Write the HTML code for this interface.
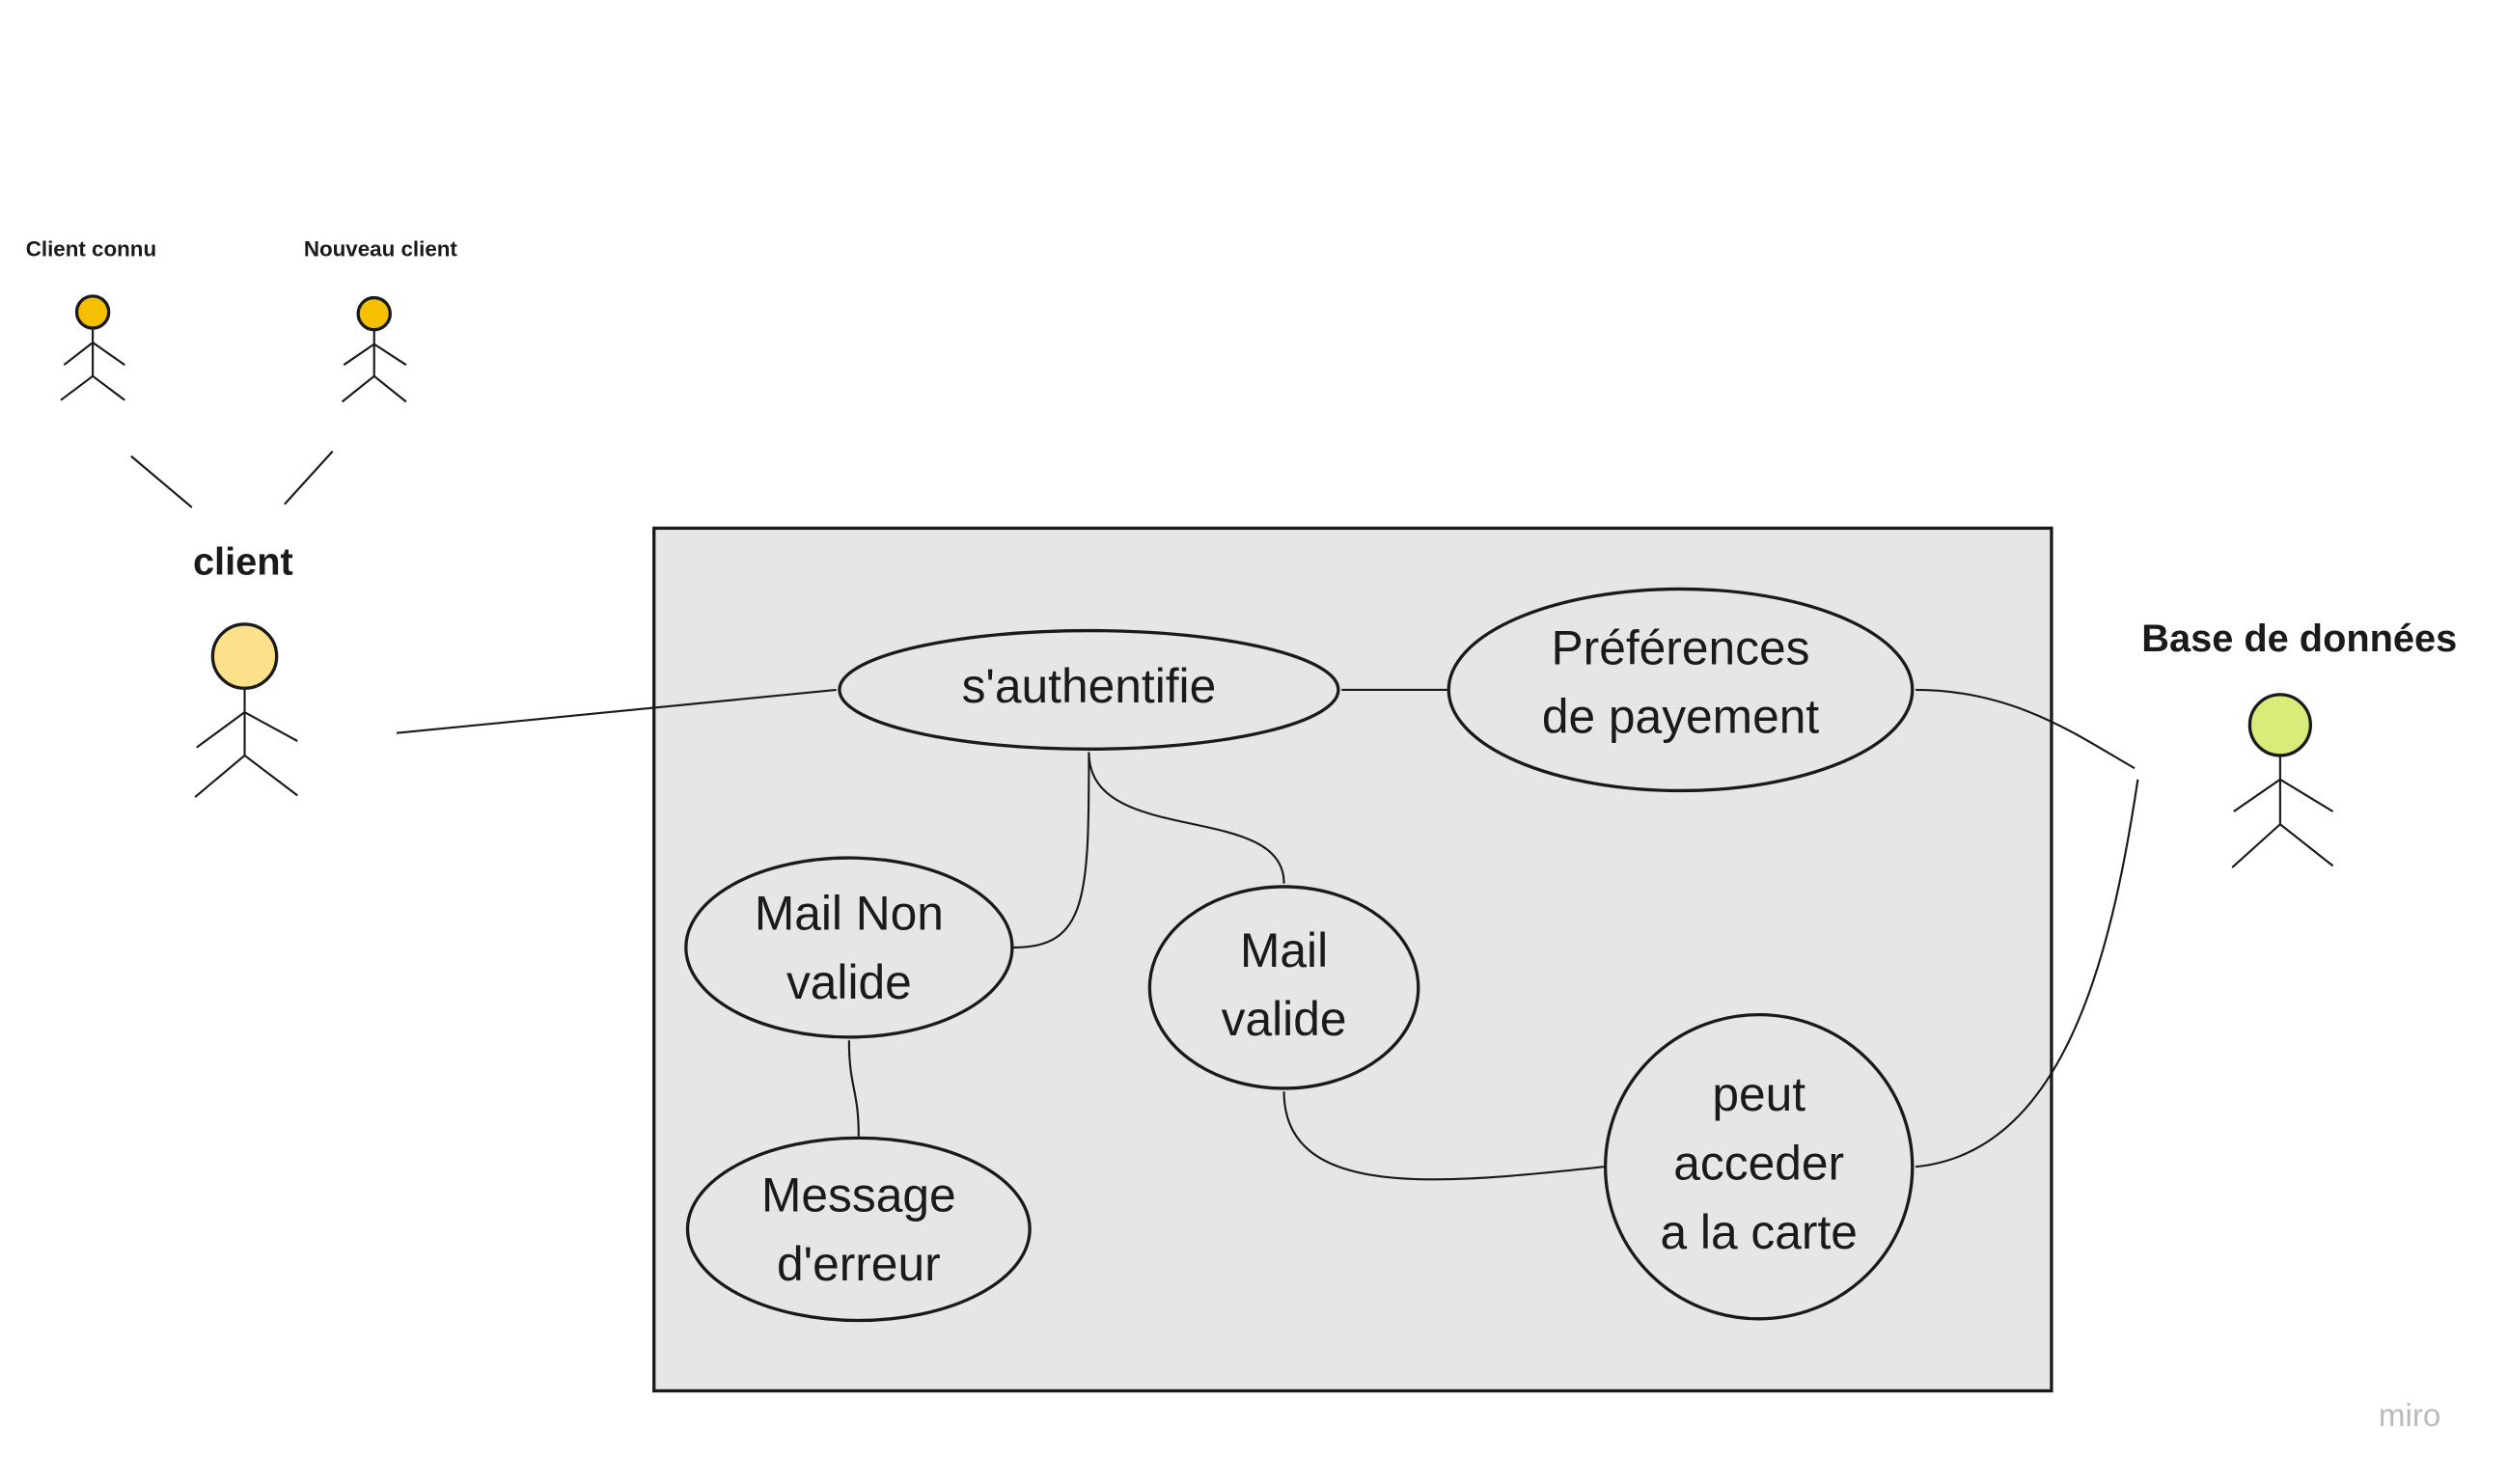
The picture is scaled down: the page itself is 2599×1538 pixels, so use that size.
<!DOCTYPE html>
<html><head><meta charset="utf-8"><style>
html,body{margin:0;padding:0;background:#fff;}
svg{display:block;}
text{font-family:"Liberation Sans",sans-serif;fill:#1a1a1a;}
</style></head><body>
<svg width="2599" height="1538" viewBox="0 0 1568.5 927.2" preserveAspectRatio="none" xmlns="http://www.w3.org/2000/svg">
<rect width="1600" height="940" fill="#fff"/>
<g stroke="#1a1a1a" stroke-width="1.3" fill="none">
<circle cx="58" cy="195" r="10" fill="#f5c000" stroke-width="2"/>
<path d="M58 205V235M58 214L40 228M58 214L78 228M58 235L38 250M58 235L78 250"/>
<circle cx="234" cy="196" r="10" fill="#f5c000" stroke-width="2"/>
<path d="M234 206V235M234 215L215 228M234 215L254 228M234 235L214 251M234 235L254 251"/>
<path d="M82 285L120 317M208 282L178 315"/>
<circle cx="153" cy="410" r="20" fill="#fde18a" stroke-width="2"/>
<path d="M153 430V472M153 445L123 467M153 445L186 463M153 472L122 498M153 472L186 497"/>
<rect x="409" y="330" width="874" height="539" fill="#e6e6e6" stroke-width="2"/>
<path d="M248 458L523 431"/>
<path d="M839 431H905"/>
<path d="M681 470C681 560 680 592 634 592"/>
<path d="M681 470C681 530 803 500 803 552"/>
<path d="M531 650C531 680 537 680 537 710"/>
<path d="M803 682C803 750 900 740 1003 729"/>
<path d="M1198 431C1260 431 1300 460 1335 480"/>
<path d="M1198 729C1290 720 1320 600 1337 487"/>
<g fill="#e6e6e6" stroke-width="2">
<ellipse cx="681" cy="431" rx="156" ry="37"/>
<ellipse cx="1051" cy="431" rx="145" ry="63"/>
<ellipse cx="531" cy="592" rx="102" ry="56"/>
<ellipse cx="803" cy="617" rx="84" ry="63"/>
<ellipse cx="537" cy="768" rx="107" ry="57"/>
<ellipse cx="1100" cy="729" rx="96" ry="95"/>
</g>
<circle cx="1426" cy="453" r="19" fill="#d8ec7a" stroke-width="2"/>
<path d="M1426 472V515M1426 487L1397 507M1426 487L1459 507M1426 515L1396 542M1426 515L1459 541"/>
</g>
<g text-anchor="middle">
<text x="57" y="160" font-size="13.5" font-weight="bold">Client connu</text>
<text x="238" y="160" font-size="13.5" font-weight="bold">Nouveau client</text>
<text x="152" y="359" font-size="24" font-weight="bold">client</text>
<text x="1438" y="407" font-size="24" font-weight="bold">Base de données</text>
<g font-size="30">
<text x="681" y="439">s'authentifie</text>
<text x="1051" y="415">Préférences</text>
<text x="1051" y="458">de payement</text>
<text x="531" y="581">Mail Non</text>
<text x="531" y="624">valide</text>
<text x="803" y="604">Mail</text>
<text x="803" y="647">valide</text>
<text x="537" y="757">Message</text>
<text x="537" y="800">d'erreur</text>
<text x="1100" y="694">peut</text>
<text x="1100" y="737">acceder</text>
<text x="1100" y="780">a la carte</text>
</g>
<text x="1507" y="891" font-size="20" style="fill:#bbb">miro</text>
</g>
</svg>
</body></html>
